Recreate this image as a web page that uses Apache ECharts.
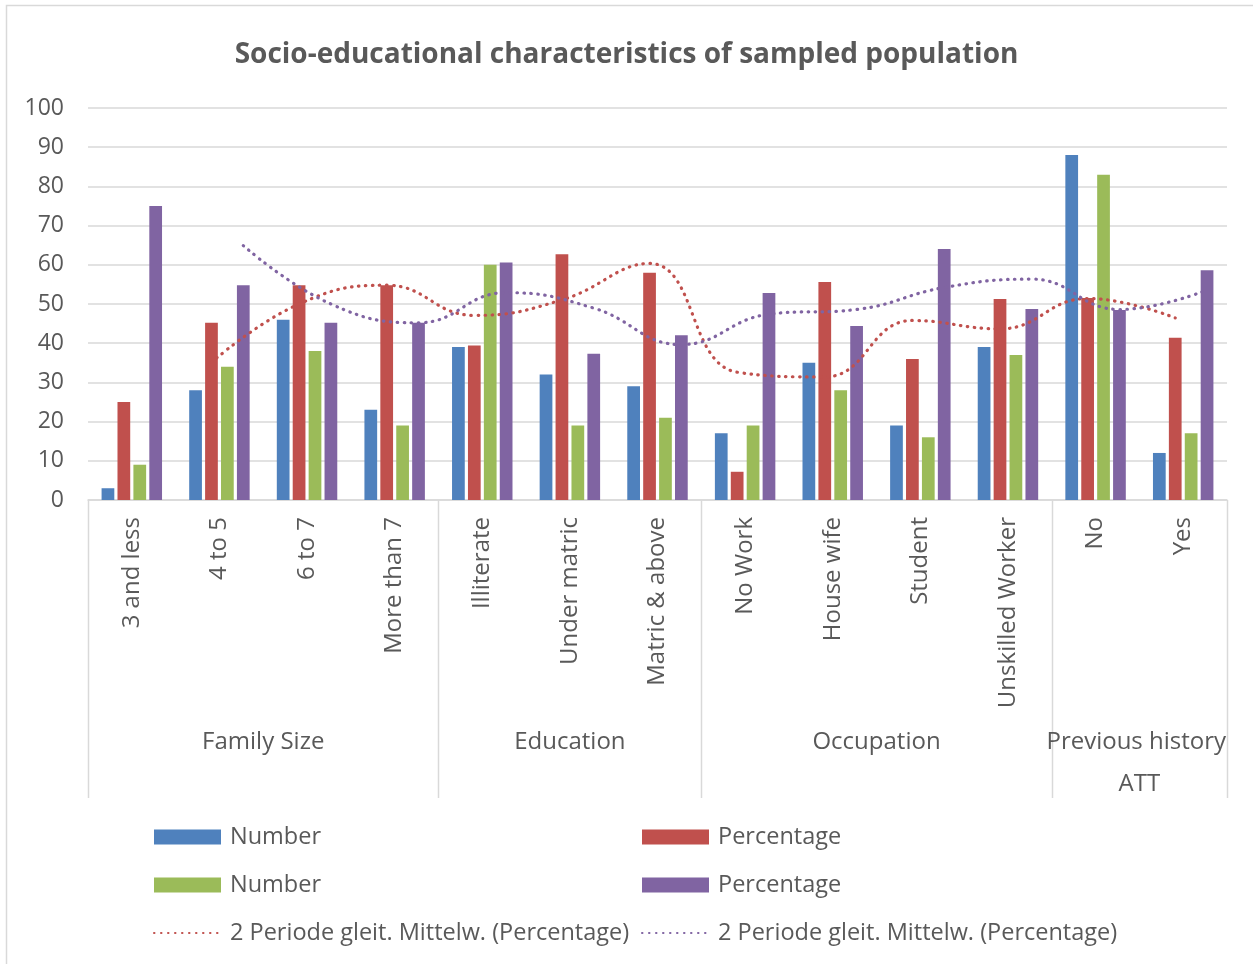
<!DOCTYPE html>
<html>
<head>
<meta charset="utf-8">
<script src="https://cdn.jsdelivr.net/npm/echarts@6/dist/echarts.min.js"></script>
<style>
  html, body { margin: 0; padding: 0; background: #ffffff; }
  #chart { width: 1253px; height: 964px; }
</style>
</head>
<body>
<div id="chart"></div>
<script>
// Categories and their groups
const categories = ['3 and less', '4 to 5', '6 to 7', 'More than 7',
  'Illiterate', 'Under matric', 'Matric & above',
  'No Work', 'House wife', 'Student', 'Unskilled Worker',
  'No', 'Yes'];
const groups = [
  { name: 'Family Size', count: 4 },
  { name: 'Education', count: 3 },
  { name: 'Occupation', count: 4 },
  { name: 'Previous history ATT', count: 2 }
];

// Series values
const number1 = [3, 28, 46, 23, 39, 32, 29, 17, 35, 19, 39, 88, 12];
const percentage1 = [25, 45.2, 54.8, 54.8, 39.4, 62.7, 58, 7.2, 55.6, 36, 51.3, 51.5, 41.4];
const number2 = [9, 34, 38, 19, 60, 19, 21, 19, 28, 16, 37, 83, 17];
const percentage2 = [75, 54.8, 45.2, 45.2, 60.6, 37.3, 42, 52.8, 44.4, 64, 48.7, 48.5, 58.6];

const yTicks = [0, 10, 20, 30, 40, 50, 60, 70, 80, 90, 100];

const legendText = {
  n1: 'Number', p1: 'Percentage', n2: 'Number', p2: 'Percentage',
  ma1: '2 Periode gleit. Mittelw. (Percentage)',
  ma2: '2 Periode gleit. Mittelw. (Percentage)'
};

const COLORS = { blue: '#4F81BD', red: '#C0504D', green: '#9BBB59', purple: '#8064A2' };
const TEXT = '#595959';
const GRIDLINE = '#d9d9d9';
const FONT = 'Open Sans';

// Clustered bar geometry (fractions of one category band)
const CAT_GAP = 0.31, BAR_GAP = 0.25, NBARS = 4;
const barW = (1 - CAT_GAP) / (NBARS + (NBARS - 1) * BAR_GAP);
function barOffset(j) {
  return -(1 - CAT_GAP) / 2 + barW / 2 + j * barW * (1 + BAR_GAP);
}

// 2-period moving average, placed at the owning bar's position
function movingAverage(vals, j) {
  const out = [];
  for (let i = 1; i < vals.length; i++) {
    out.push([i + barOffset(j), +((vals[i - 1] + vals[i]) / 2).toFixed(2)]);
  }
  return out;
}

const GRID = { left: 88, right: 26, top: 108, bottom: 464 };

const chart = echarts.init(document.getElementById('chart'));

const barSeries = (id, data, color) => ({
  id, name: id, type: 'bar', data,
  xAxisIndex: 0, yAxisIndex: 0,
  barCategoryGap: (CAT_GAP * 100) + '%', barGap: (BAR_GAP * 100) + '%',
  itemStyle: { color },
  emphasis: { disabled: true }
});
const maSeries = (id, data, color) => ({
  id, name: id, type: 'line', data,
  xAxisIndex: 1, yAxisIndex: 0,
  smooth: 0.45, symbol: 'none', z: 5,
  lineStyle: { color, width: 3.2, type: [0.5, 6.5], cap: 'round' },
  itemStyle: { color },
  emphasis: { disabled: true }
});

// Legend entries: solid swatches for bars, dotted line only for trend lines
const hiddenSymbol = { color: 'rgba(0,0,0,0)', borderWidth: 0, opacity: 0 };
const legendCommon = {
  orient: 'vertical', itemWidth: 67, itemHeight: 15, itemGap: 24, padding: 0,
  textStyle: { color: TEXT, fontSize: 23.5, fontFamily: FONT, lineHeight: 24, padding: [0, 0, 0, 4] },
  formatter: name => legendText[name]
};

chart.setOption({
  animation: false,
  backgroundColor: '#ffffff',
  title: {
    text: 'Socio-educational characteristics of sampled population',
    left: 'center', top: 36,
    textStyle: { color: TEXT, fontSize: 28, fontWeight: 'bold', fontFamily: FONT }
  },
  legend: [
    Object.assign({ left: 153, top: 825, data: [
      { name: 'n1', icon: 'rect' }, { name: 'n2', icon: 'rect' },
      { name: 'ma1', itemStyle: hiddenSymbol }
    ] }, legendCommon),
    Object.assign({ left: 641, top: 825, data: [
      { name: 'p1', icon: 'rect' }, { name: 'p2', icon: 'rect' },
      { name: 'ma2', itemStyle: hiddenSymbol }
    ] }, legendCommon)
  ],
  grid: GRID,
  xAxis: [
    {
      type: 'category', data: categories,
      axisLine: { lineStyle: { color: GRIDLINE, width: 1.5 } },
      axisTick: { show: false },
      axisLabel: { rotate: 90, margin: 17, color: TEXT, fontSize: 24, fontFamily: FONT, interval: 0 }
    },
    { type: 'value', min: -0.5, max: categories.length - 0.5, show: false }
  ],
  yAxis: {
    type: 'value', min: yTicks[0], max: yTicks[yTicks.length - 1], interval: 10,
    axisLine: { show: false }, axisTick: { show: false },
    splitLine: { lineStyle: { color: GRIDLINE, width: 1.5 } },
    axisLabel: { color: TEXT, fontSize: 23, fontFamily: FONT, margin: 24 }
  },
  series: [
    barSeries('n1', number1, COLORS.blue),
    barSeries('p1', percentage1, COLORS.red),
    barSeries('n2', number2, COLORS.green),
    barSeries('p2', percentage2, COLORS.purple),
    maSeries('ma1', movingAverage(percentage1, 1), COLORS.red),
    maSeries('ma2', movingAverage(percentage2, 3), COLORS.purple)
  ]
});

// Multi-level category axis: group dividers and group names
function drawGroups() {
  const c0 = chart.convertToPixel({ xAxisIndex: 0 }, 0);
  const c1 = chart.convertToPixel({ xAxisIndex: 0 }, 1);
  const band = c1 - c0;
  const axisY = chart.convertToPixel({ yAxisIndex: 0 }, 0);
  const bottomY = 798;
  const elements = [{
    type: 'rect', silent: true,
    shape: { x: 6.5, y: 5.5, width: 1300, height: 1000 },
    style: { fill: 'none', stroke: GRIDLINE, lineWidth: 1.5 }
  }];
  let start = 0;
  const boundaries = [0];
  groups.forEach(g => { start += g.count; boundaries.push(start); });
  boundaries.forEach(k => {
    const x = Math.round(c0 - band / 2 + k * band) + 0.5;
    elements.push({
      type: 'line', silent: true,
      shape: { x1: x, y1: axisY, x2: x, y2: bottomY },
      style: { stroke: GRIDLINE, lineWidth: 1.5 }
    });
  });
  start = 0;
  groups.forEach(g => {
    const x0 = c0 - band / 2 + start * band;
    const w = g.count * band;
    elements.push({
      type: 'text', silent: true,
      x: x0 + w / 2, y: 742 - 21,
      style: {
        text: g.name, width: w + 14, overflow: 'break',
        align: 'center', verticalAlign: 'top', lineHeight: 42,
        fill: TEXT, fontSize: 24, fontFamily: FONT
      }
    });
    start += g.count;
  });
  chart.setOption({ graphic: elements });
}
drawGroups();
</script>
</body>
</html>
